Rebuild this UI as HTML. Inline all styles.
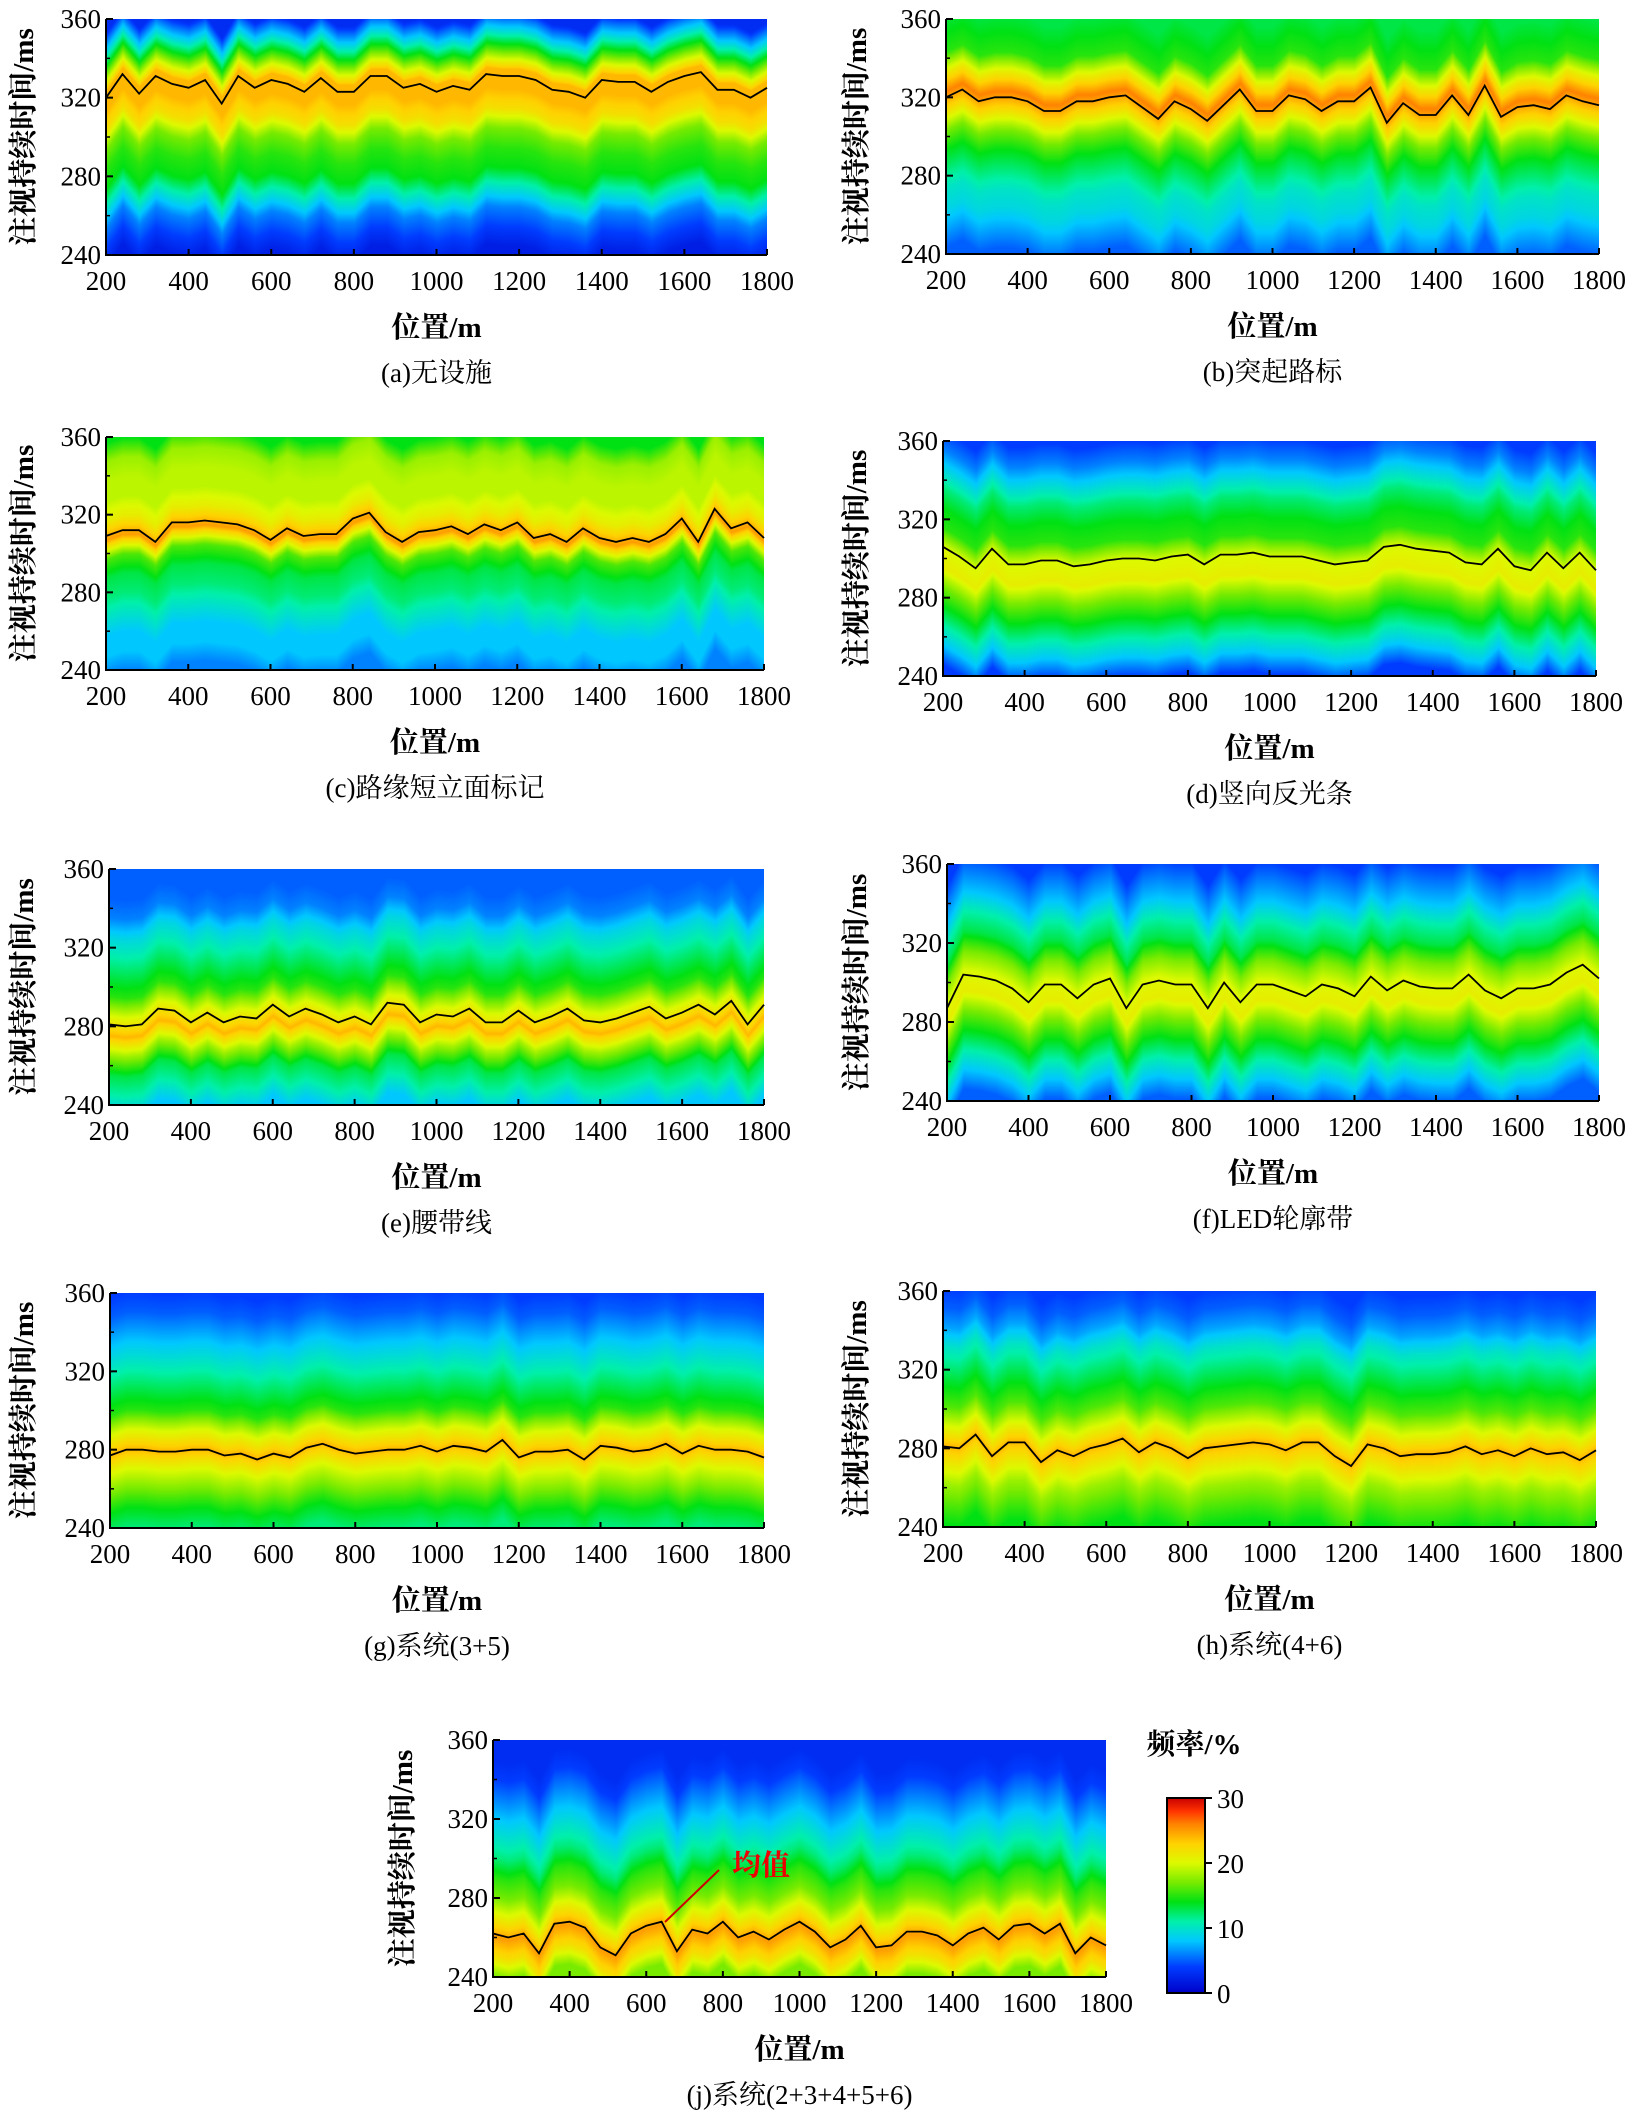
<!DOCTYPE html>
<html><head><meta charset="utf-8">
<style>
html,body{margin:0;padding:0;background:#fff;}
#root{position:relative;width:1642px;height:2128px;overflow:hidden;background:#fff;}
canvas{position:absolute;}
svg{position:absolute;left:0;top:0;}
text{font-family:"Liberation Serif","Noto Serif CJK SC",serif;fill:#000;}
</style></head>
<body>
<div id="root">
<svg id="ov" width="1642" height="2128"></svg>
</div>
<script>
const xTicks=[200,400,600,800,1000,1200,1400,1600,1800];
const yTicks=[240,280,320,360];
const cbTicks=[0,10,20,30];
const profLevels=[240,250,260,270,280,290,300,310,320,330,340,350,360];

const meanA=[320,332,322,331,327,325,329,317,331,325,329,327,323,330,323,323,331,331,325,327,323,326,324,332,331,331,329,324,323,320,329,328,328,323,328,331,333,324,324,320,325];
const meanB=[320,324,318,320,320,318,313,313,318,318,320,321,315,309,318,314,308,316,324,313,313,321,319,313,318,318,325,307,317,311,311,321,311,326,310,315,316,314,321,318,316];
const meanC=[309,312,312,306,316,316,317,316,315,312,307,313,309,310,310,318,321,311,306,311,312,314,310,315,312,316,308,310,306,313,308,306,308,306,310,318,306,323,313,316,308];
const meanD=[306,301,295,305,297,297,299,299,296,297,299,300,300,299,301,302,297,302,302,303,301,301,301,299,297,298,299,306,307,305,304,303,298,297,305,296,294,303,295,303,294];
const meanE=[281,280,281,289,288,282,287,282,285,284,291,285,289,286,282,285,281,292,291,282,286,285,289,282,282,288,282,285,289,283,282,284,287,290,284,287,291,286,293,281,291];
const meanF=[287,304,303,301,297,290,299,299,292,299,302,287,299,301,299,299,287,300,290,299,299,296,293,299,297,293,303,296,301,298,297,297,304,296,292,297,297,299,305,309,302];
const meanG=[277,280,280,279,279,280,280,277,278,275,278,276,281,283,280,278,279,280,280,282,279,282,281,279,285,276,279,279,280,275,282,281,279,280,283,278,282,280,280,279,276];
const meanH=[281,280,287,276,283,283,273,279,276,280,282,285,278,283,280,275,280,281,282,283,282,279,283,283,276,271,282,280,276,277,277,278,281,277,279,276,280,277,278,274,279];
const meanJ=[262,260,262,252,267,268,265,255,251,262,266,268,253,264,262,268,260,263,259,264,268,263,255,259,266,255,256,263,263,261,256,262,265,259,266,267,262,267,252,260,256];

const profA=[2,4,6,10,14,15,17,22,24,24,16,9,3];
const profB=[5,7,9,10,12,14,17,22,26,21,15,14,13];
const profC=[6,8,8,10,12,13,16,25,21,19,19,18,14];
const profD=[4,8,11,14,17,21,20,15,14,12,9,6,4];
const profE=[8,11,13,18,24,20,15,13,11,9,6,5,5];
const profF=[5,8,11,14,17,21,20,17,13,11,8,6,4];
const profG=[12,14,17,20,24,20,15,13,11,9,7,5,4];
const profH=[14,16,18,21,24,20,16,14,12,10,7,5,4];
const profJ=[17,22,25,21,17,15,12,10,8,6,4,3,3];

const panels=[
 {id:'a',x0:106,x1:767,y0:19,y1:255,mean:meanA,prof:profA,cap:'(a)无设施',tx:24},
 {id:'b',x0:946,x1:1599,y0:19,y1:254,mean:meanB,prof:profB,cap:'(b)突起路标',tx:857},
 {id:'c',x0:106,x1:764,y0:437,y1:670,mean:meanC,prof:profC,cap:'(c)路缘短立面标记',tx:24},
 {id:'d',x0:943,x1:1596,y0:441,y1:676,mean:meanD,prof:profD,cap:'(d)竖向反光条',tx:857},
 {id:'e',x0:109,x1:764,y0:869,y1:1105,mean:meanE,prof:profE,cap:'(e)腰带线',tx:24},
 {id:'f',x0:947,x1:1599,y0:864,y1:1101,mean:meanF,prof:profF,cap:'(f)LED轮廓带',tx:857},
 {id:'g',x0:110,x1:764,y0:1293,y1:1528,mean:meanG,prof:profG,cap:'(g)系统(3+5)',tx:24},
 {id:'h',x0:943,x1:1596,y0:1291,y1:1527,mean:meanH,prof:profH,cap:'(h)系统(4+6)',tx:857},
 {id:'j',x0:493,x1:1106,y0:1740,y1:1977,mean:meanJ,prof:profJ,cap:'(j)系统(2+3+4+5+6)',tx:403}
];

const cmapV=[0,4,8,11,14,17,20,23,26,28,30];
const cmapC=[[0,0,200],[0,60,255],[0,200,255],[0,240,170],[0,225,20],[120,235,0],[220,250,0],[255,210,0],[255,130,0],[255,50,0],[200,0,0]];
function cmap(v){
  v=Math.max(0,Math.min(30,v));
  let i=0;while(i<cmapV.length-2&&v>cmapV[i+1])i++;
  const r=(v-cmapV[i])/(cmapV[i+1]-cmapV[i]);
  return cmapC[i].map((c,k)=>c*(1-r)+cmapC[i+1][k]*r);
}
function profAt(p,v){
  if(v<=240)return p[0]; if(v>=360)return p[12];
  const f=(v-240)/10,i=Math.floor(f),r=f-i;
  return p[i]*(1-r)+p[Math.min(12,i+1)]*r;
}
const NS='http://www.w3.org/2000/svg';
const svg=document.getElementById('ov');
const root=document.getElementById('root');
function mk(tag,attrs,txt){const e=document.createElementNS(NS,tag);for(const k in attrs)e.setAttribute(k,attrs[k]);if(txt!=null)e.textContent=txt;svg.appendChild(e);return e;}

panels.forEach(P=>{
  const W=P.x1-P.x0,H=P.y1-P.y0;
  const sx=v=>P.x0+(v-200)/1600*W;
  const sy=v=>P.y1-(v-240)/120*H;
  const n=P.mean.length;
  const avg=P.mean.reduce((a,b)=>a+b,0)/n;
  const cv=document.createElement('canvas');
  cv.width=W;cv.height=H;cv.style.left=P.x0+'px';cv.style.top=P.y0+'px';
  
  
  root.insertBefore(cv,svg);
  const ctx=cv.getContext('2d');const img=ctx.createImageData(W,H);
  for(let px=0;px<W;px++){
    const c=px/W*(n-1),i=Math.floor(c),r=c-i;
    const sh=(P.mean[i]*(1-r)+P.mean[Math.min(n-1,i+1)]*r)-avg;
    for(let py=0;py<H;py++){
      const v=360-py/H*120;
      const val=profAt(P.prof,v-sh);
      const col=cmap(val);
      const k=(py*W+px)*4;
      img.data[k]=col[0];img.data[k+1]=col[1];img.data[k+2]=col[2];img.data[k+3]=255;
    }
  }
  ctx.putImageData(img,0,0);
  const pts=P.mean.map((m,i)=>sx(200+i*40).toFixed(1)+','+sy(m).toFixed(1)).join(' ');
  const pl=mk('polyline',{points:pts,fill:'none',stroke:'#000','stroke-width':1.8});
  
  
  const ax=mk('path',{d:`M${P.x0},${P.y0}V${P.y1}H${P.x1}`,fill:'none',stroke:'#000','stroke-width':2});
  
  
  yTicks.forEach(t=>{
    mk('line',{x1:P.x0,x2:P.x0+7,y1:sy(t),y2:sy(t),stroke:'#000','stroke-width':2});
    const tl=mk('text',{x:P.x0-5,y:sy(t)+9,'font-size':27,'text-anchor':'end'},String(t));
    
    
  });
  [260,300,340].forEach(t=>mk('line',{x1:P.x0,x2:P.x0+4,y1:sy(t),y2:sy(t),stroke:'#000','stroke-width':1.5}));
  xTicks.forEach(t=>{
    mk('line',{x1:sx(t),x2:sx(t),y1:P.y1,y2:P.y1-6,stroke:'#000','stroke-width':2});
    const tl=mk('text',{x:sx(t),y:P.y1+35,'font-size':27,'text-anchor':'middle'},String(t));
    
    
  });
  const cx=(P.x0+P.x1)/2;
  const xt=mk('text',{x:cx,y:P.y1+82,'font-size':29,'font-weight':'bold','text-anchor':'middle'},'位置/m');
  
  
  const cp=mk('text',{x:cx,y:P.y1+127,'font-size':27,'text-anchor':'middle'},P.cap);
  
  
  const cy=(P.y0+P.y1)/2;
  const yt=mk('text',{x:P.tx,y:cy,'font-size':29,'font-weight':'bold','text-anchor':'middle',transform:`rotate(-90 ${P.tx} ${cy})`,'dominant-baseline':'central'},'注视持续时间/ms');
  
  
});

const ann=mk('line',{x1:719,y1:1870,x2:665,y2:1922,stroke:'#c00','stroke-width':2});


const annT=mk('text',{x:732,y:1875,'font-size':29,fill:'#e00','font-weight':'bold'},'均值');
annT.style.fill='#e00';



const cbx=1167,cbw=38,cbTop=1798,cbBot=1993;
const defs=mk('defs',{});
const lg=document.createElementNS(NS,'linearGradient');
lg.setAttribute('id','jetg');lg.setAttribute('x1','0');lg.setAttribute('y1','1');lg.setAttribute('x2','0');lg.setAttribute('y2','0');
for(let i=0;i<=30;i++){const c=cmap(i);const s=document.createElementNS(NS,'stop');s.setAttribute('offset',i/30);s.setAttribute('stop-color',`rgb(${c.map(Math.round).join(',')})`);lg.appendChild(s);}
defs.appendChild(lg);
const cb=mk('rect',{x:cbx,y:cbTop,width:cbw,height:cbBot-cbTop,fill:'url(#jetg)',stroke:'#000','stroke-width':2});


cbTicks.forEach(t=>{
  const y=cbBot-t/30*(cbBot-cbTop);
  mk('line',{x1:cbx+cbw,x2:cbx+cbw+7,y1:y,y2:y,stroke:'#000','stroke-width':2});
  const tl=mk('text',{x:cbx+cbw+12,y:y+10,'font-size':27},String(t));
  
  
});
const cbt=mk('text',{x:1194,y:1754,'font-size':29,'font-weight':'bold','text-anchor':'middle'},'频率/%');


</script>
</body></html>
